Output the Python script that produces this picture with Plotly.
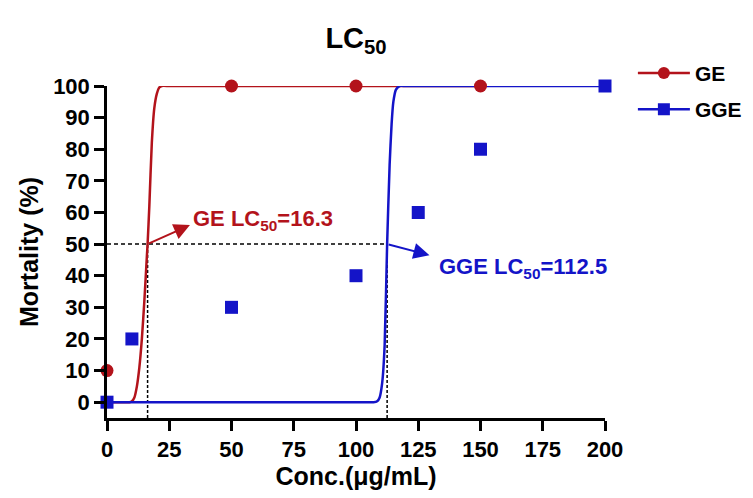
import plotly.graph_objects as go

# Observed data
conc_ge = [0, 50, 100, 150]
mort_ge = [10, 100, 100, 100]
conc_gge = [0, 10, 50, 100, 125, 150, 200]
mort_gge = [0, 20, 30, 40, 60, 80, 100]

# Fitted curves
fit_ge_x = [0, 5, 9, 10, 11, 12, 13, 14, 15, 16, 16.3, 17, 18, 19, 20, 21, 22, 25, 50, 100, 150]
fit_ge_y = [0, 0, 0, 0.3, 1.5, 5, 11, 20, 32, 46, 50, 62, 82, 93, 97.5, 99.5, 100, 100, 100, 100, 100]
fit_gge_x = [0, 50, 100, 107, 108.5, 109.5, 110.5, 111.5, 112.5, 113.5, 114.3, 115, 116, 117.5,
             120, 150, 200]
fit_gge_y = [0, 0, 0, 0, 0.3, 1.5, 6, 18, 50, 75, 88, 95, 98.8, 100, 100, 100, 100]

lc50_ge = 16.3
lc50_gge = 112.5

x_ticks = [0, 25, 50, 75, 100, 125, 150, 175, 200]
y_ticks = [0, 10, 20, 30, 40, 50, 60, 70, 80, 90, 100]

RED = "#B3131B"
BLUE = "#1414C8"
FONT = "Arial, Liberation Sans, sans-serif"

# page body has an 8px margin; figure coordinates are page coordinates minus 8
OFF = 8
W, H = 753 - OFF, 498 - OFF
L, R, T, B = 107 - OFF, 148, 86 - OFF, 80

fig = go.Figure()

# Dashed guide lines
fig.add_trace(go.Scatter(x=[0, lc50_gge], y=[50, 50], mode="lines",
                         line=dict(color="black", width=1.5, dash="4px,3px"),
                         showlegend=False, hoverinfo="skip", cliponaxis=False))
fig.add_trace(go.Scatter(x=[lc50_ge, lc50_ge], y=[-5, 50], mode="lines",
                         line=dict(color="black", width=1.5, dash="3px,2px"),
                         showlegend=False, hoverinfo="skip", cliponaxis=False))
fig.add_trace(go.Scatter(x=[lc50_gge, lc50_gge], y=[-5, 50], mode="lines",
                         line=dict(color="black", width=1.5, dash="3px,2px"),
                         showlegend=False, hoverinfo="skip", cliponaxis=False))

# Curves
fig.add_trace(go.Scatter(x=fit_ge_x, y=fit_ge_y, mode="lines",
                         line=dict(color=RED, width=2.5, shape="spline", smoothing=0.6),
                         showlegend=False, cliponaxis=False))
fig.add_trace(go.Scatter(x=fit_gge_x, y=fit_gge_y, mode="lines",
                         line=dict(color=BLUE, width=2.5, shape="spline", smoothing=0.6),
                         showlegend=False, cliponaxis=False))

# Points
fig.add_trace(go.Scatter(x=conc_ge, y=mort_ge, mode="markers",
                         marker=dict(color=RED, size=13, symbol="circle"),
                         showlegend=False, cliponaxis=False))
fig.add_trace(go.Scatter(x=conc_gge, y=mort_gge, mode="markers",
                         marker=dict(color=BLUE, size=13, symbol="square"),
                         showlegend=False, cliponaxis=False))

# Legend entries
fig.add_trace(go.Scatter(x=[None], y=[None], mode="lines+markers", name="<b>GE</b>",
                         legendgroup="a",
                         line=dict(color=RED, width=2.5),
                         marker=dict(color=RED, size=12, symbol="circle")))
fig.add_trace(go.Scatter(x=[None], y=[None], mode="lines+markers", name="<b>GGE</b>",
                         legendgroup="b",
                         line=dict(color=BLUE, width=2.5),
                         marker=dict(color=BLUE, size=12, symbol="square")))

# Arrows
fig.add_annotation(x=33.3, y=56, ax=lc50_ge, ay=50, xref="x", yref="y",
                   axref="x", ayref="y", text="", showarrow=True,
                   arrowhead=2, arrowsize=1.6, arrowwidth=2, arrowcolor=RED)
fig.add_annotation(x=129.5, y=46.5, ax=lc50_gge, ay=50, xref="x", yref="y",
                   axref="x", ayref="y", text="", showarrow=True,
                   arrowhead=2, arrowsize=1.6, arrowwidth=2, arrowcolor=BLUE)

# Labels
fig.add_annotation(x=33.8, y=57.6, xref="x", yref="y", xanchor="left", yanchor="middle",
                   text="<b>GE LC<sub>50</sub>=16.3</b>", showarrow=False,
                   font=dict(family=FONT, size=22, color=RED))
fig.add_annotation(x=132.5, y=42.5, xref="x", yref="y", xanchor="left", yanchor="middle",
                   text="<b>GGE LC<sub>50</sub>=112.5</b>", showarrow=False,
                   font=dict(family=FONT, size=22, color=BLUE))

fig.update_layout(
    width=W, height=H,
    margin=dict(l=L, r=R, t=T, b=B, autoexpand=False),
    plot_bgcolor="white", paper_bgcolor="white",
    font=dict(family=FONT, color="black"),
    title=dict(text="<b>LC<sub>50</sub></b>", x=(356 - OFF) / W, xanchor="center",
               y=1 - (38 - OFF) / H, yanchor="middle", font=dict(size=29, family=FONT)),
    legend=dict(x=1.056, y=1.1, xanchor="left", yanchor="top",
                font=dict(size=21, family=FONT), traceorder="grouped", tracegroupgap=6,
                itemwidth=52, bgcolor="rgba(0,0,0,0)"),
    xaxis=dict(range=[0, 200], tickvals=x_ticks, ticktext=[f"<b>{v}</b>" for v in x_ticks],
               showgrid=False, zeroline=False, showline=True, linecolor="black", linewidth=2.5,
               ticks="outside", ticklen=10, tickwidth=2.5, tickcolor="black", automargin=False,
               tickfont=dict(size=22, family=FONT),
               title=dict(text="<b>Conc.(μg/mL)</b>", font=dict(size=25, family=FONT), standoff=6)),
    yaxis=dict(range=[-5, 100], tickvals=y_ticks, ticktext=[f"<b>{v}</b>" for v in y_ticks],
               showgrid=False, zeroline=False, showline=True, linecolor="black", linewidth=2.5,
               ticks="outside", ticklen=10, tickwidth=2.5, tickcolor="black", automargin=False,
               tickfont=dict(size=22, family=FONT),
               title=dict(text="<b>Mortality (%)</b>", font=dict(size=25, family=FONT), standoff=8)),
)

fig.write_html("out.html")
